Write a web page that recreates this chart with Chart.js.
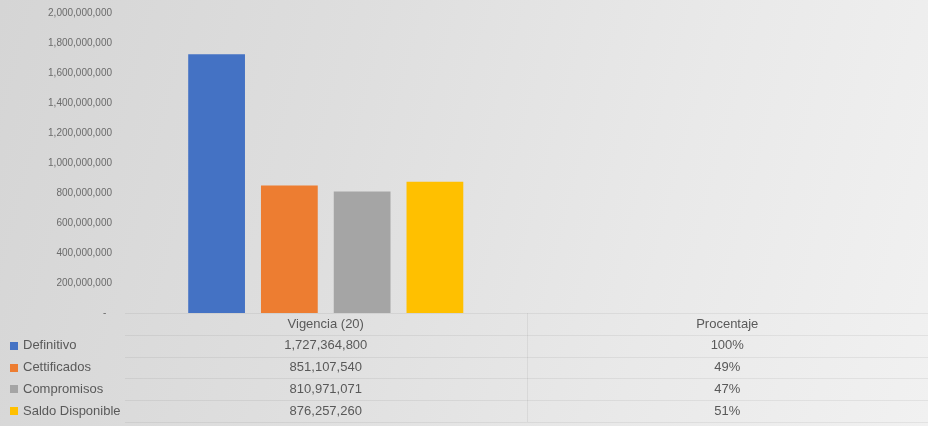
<!DOCTYPE html>
<html>
<head>
<meta charset="utf-8">
<script src="https://cdn.jsdelivr.net/npm/chart.js@4.4.1/dist/chart.umd.min.js"></script>
<style>
    html, body {
        margin: 0;
        padding: 0;
    }
    body {
        width: 928px;
        height: 426px;
        background: linear-gradient(105deg, #d5d5d5 0%, #dedede 35%, #e9e9e9 70%, #f1f1f1 100%);
    }
    #wrap {
        position: relative;
        width: 928px;
        height: 426px;
    }
</style>
</head>
<body>
<div id="wrap"><canvas id="chart"></canvas></div>
<script>
const categories = ["Vigencia (20)", "Procentaje"];
const seriesNames = ["Definitivo", "Cettificados", "Compromisos", "Saldo Disponible"];
const vigencia = [1727364800, 851107540, 810971071, 876257260];
const porcentaje = [1.00, 0.49, 0.47, 0.51];
const yTicks = [0, 200000000, 400000000, 600000000, 800000000, 1000000000,
    1200000000, 1400000000, 1600000000, 1800000000, 2000000000];

const colors = ["#4472c4", "#ed7d31", "#a5a5a5", "#ffc000"];
const textColor = "#595959";
const fontFamily = "'Liberation Sans', Arial, sans-serif";

const fmtNumber = v => v.toLocaleString("en-US");
const fmtPercent = v => Math.round(v * 100) + "%";

// data table under the plot, aligned to the x scale
const dataTable = {
    id: "dataTable",
    afterDraw(chart) {
        const ctx = chart.ctx;
        const area = chart.chartArea;
        const x = chart.scales.x;
        const rowH = 21.8;
        const top = area.bottom;
        const nRows = seriesNames.length + 1;

        ctx.save();
        ctx.strokeStyle = "rgba(0,0,0,0.06)";
        ctx.lineWidth = 1;
        for (let r = 0; r <= nRows; r++) {
            const y = Math.round(top + r * rowH) + 0.5;
            ctx.beginPath();
            ctx.moveTo(area.left, y);
            ctx.lineTo(chart.width, y);
            ctx.stroke();
        }
        const mid = (x.getPixelForValue(0) + x.getPixelForValue(1)) / 2;
        ctx.beginPath();
        ctx.moveTo(Math.round(mid) + 0.5, top);
        ctx.lineTo(Math.round(mid) + 0.5, top + nRows * rowH);
        ctx.stroke();

        ctx.font = "13px " + fontFamily;
        ctx.fillStyle = textColor;
        ctx.textBaseline = "middle";
        ctx.textAlign = "center";
        categories.forEach((c, i) => {
            ctx.fillText(c, x.getPixelForValue(i), top + rowH * 0.5 + 1);
        });

        seriesNames.forEach((name, r) => {
            const cy = top + rowH * (r + 1.5);
            ctx.textAlign = "center";
            ctx.fillStyle = textColor;
            ctx.fillText(fmtNumber(vigencia[r]), x.getPixelForValue(0), cy);
            ctx.fillText(fmtPercent(porcentaje[r]), x.getPixelForValue(1), cy);

            ctx.fillStyle = colors[r];
            ctx.fillRect(10, Math.round(cy - 4), 8, 8);
            ctx.fillStyle = textColor;
            ctx.textAlign = "left";
            ctx.fillText(name, 23, cy);
        });
        ctx.restore();
    }
};

new Chart(document.getElementById("chart"), {
    type: "bar",
    data: {
        labels: categories,
        datasets: seriesNames.map((name, i) => ({
            label: name,
            data: [vigencia[i], porcentaje[i]],
            backgroundColor: colors[i],
            borderWidth: 0,
            barPercentage: 0.78,
            categoryPercentage: 0.725,
        })),
    },
    options: {
        responsive: true,
        maintainAspectRatio: false,
        animation: false,
        layout: {
            padding: {top: 13.5, right: 0, bottom: 113, left: 0},
        },
        plugins: {
            legend: {display: false},
            tooltip: {enabled: false},
        },
        scales: {
            x: {
                display: false,
            },
            y: {
                min: 0,
                max: 2000000000,
                afterFit: scale => {
                    scale.width = 125;
                    scale.paddingTop = 0;
                    scale.paddingBottom = 0;
                },
                afterBuildTicks: scale => {
                    scale.ticks = yTicks.map(v => ({value: v}));
                },
                grid: {display: false, drawTicks: false},
                border: {display: false},
                ticks: {
                    padding: 13,
                    color: "#6b6b6b",
                    font: {size: 10, family: fontFamily},
                    callback: v => v === 0 ? "-  " : fmtNumber(v),
                },
            },
        },
    },
    plugins: [dataTable],
});
</script>
</body>
</html>
